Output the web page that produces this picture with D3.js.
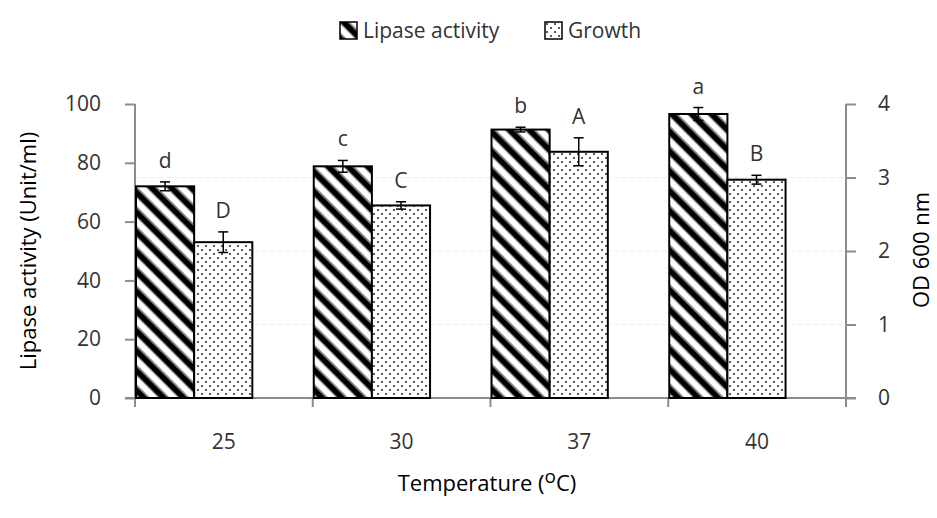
<!DOCTYPE html>
<html>
<head>
<meta charset="utf-8">
<script src="https://cdn.jsdelivr.net/npm/d3@7"></script>
<style>
  body { margin: 0; background: #fff; }
  text { font-family: "Open Sans", "Noto Sans", sans-serif; }
</style>
</head>
<body>
<div id="chart"></div>
<script>
const temps = ["25", "30", "37", "40"];
const lipase = [72.0, 78.8, 91.3, 96.6];
const lipaseErr = [1.5, 2.0, 0.8, 2.2];
const growth = [2.12, 2.62, 3.35, 2.97];
const growthErr = [0.14, 0.05, 0.19, 0.06];
const lipaseLetters = ["d", "c", "b", "a"];
const growthLetters = ["D", "C", "A", "B"];
const leftTicks = [0, 20, 40, 60, 80, 100];
const rightTicks = [0, 1, 2, 3, 4];

(function() {
  const W = 937, H = 518;
  const plot = { left: 135, right: 846, top: 104, bottom: 398 };
  const fs = "21px";

  const svg = d3.select("#chart").append("svg")
    .attr("width", W)
    .attr("height", H);

  const defs = svg.append("defs");

  // diagonal stripes "\"
  const stripe = defs.append("pattern")
    .attr("id", "stripes")
    .attr("patternUnits", "userSpaceOnUse")
    .attr("width", 14).attr("height", 14)
    .attr("patternTransform", "rotate(-45)");
  stripe.append("rect").attr("width", 14).attr("height", 14).attr("fill", "#fff");
  stripe.append("rect").attr("x", 0).attr("width", 5.5).attr("height", 14).attr("fill", "#000");
  stripe.append("rect").attr("x", 5.5).attr("width", 1.2).attr("height", 14).attr("fill", "#666");
  stripe.append("rect").attr("x", 12.8).attr("width", 1.2).attr("height", 14).attr("fill", "#666");

  // dots
  const dots = defs.append("pattern")
    .attr("id", "dots")
    .attr("patternUnits", "userSpaceOnUse")
    .attr("width", 8).attr("height", 8);
  dots.append("rect").attr("width", 8).attr("height", 8).attr("fill", "#fff");
  dots.append("circle").attr("cx", 2).attr("cy", 2).attr("r", 1.1).attr("fill", "#333");
  dots.append("circle").attr("cx", 6).attr("cy", 6).attr("r", 1.1).attr("fill", "#333");

  const x = d3.scaleBand()
    .domain(temps)
    .range([plot.left, plot.right])
    .padding(0);

  const xs = d3.scaleBand()
    .domain(["lipase", "growth"])
    .range([1, x.bandwidth() * 0.66]);

  const yL = d3.scaleLinear().domain([0, 100]).range([plot.bottom, plot.top]);
  const yR = d3.scaleLinear().domain([0, 4]).range([plot.bottom, plot.top]);

  // faint gridlines
  svg.append("g")
    .selectAll("line")
    .data(rightTicks.filter(d => d > 0 && d < 4))
    .join("line")
    .attr("x1", plot.left).attr("x2", plot.right)
    .attr("y1", d => yR(d)).attr("y2", d => yR(d))
    .attr("stroke", "#ececec")
    .attr("stroke-dasharray", "4,4");

  // AXES
  const axisColor = "#8c8c8c";
  const gL = svg.append("g")
    .attr("transform", `translate(${plot.left},0)`)
    .call(d3.axisLeft(yL).tickValues(leftTicks).tickSize(10).tickPadding(24));
  const gR = svg.append("g")
    .attr("transform", `translate(${plot.right},0)`)
    .call(d3.axisRight(yR).tickValues(rightTicks).tickFormat(d3.format("d")).tickSize(10).tickPadding(22));
  [gL, gR].forEach(g => {
    g.select(".domain").attr("stroke", axisColor).attr("stroke-width", 2)
      .attr("d", `M0,${plot.top}V${plot.bottom + 9}`);
    g.selectAll(".tick line").attr("stroke", axisColor).attr("stroke-width", 2);
    g.selectAll(".tick text")
      .attr("fill", "#333")
      .style("font-size", fs)
      .style("font-family", "'Open Sans', sans-serif");
  });

  // x axis
  const gX = svg.append("g");
  gX.append("line")
    .attr("x1", plot.left - 10).attr("x2", plot.right + 10)
    .attr("y1", plot.bottom).attr("y2", plot.bottom)
    .attr("stroke", axisColor).attr("stroke-width", 2);
  gX.selectAll(".xt")
    .data(temps.concat(["end"]))
    .join("line")
    .attr("class", "xt")
    .attr("x1", d => d === "end" ? plot.right : x(d))
    .attr("x2", d => d === "end" ? plot.right : x(d))
    .attr("y1", plot.bottom).attr("y2", plot.bottom + 9)
    .attr("stroke", axisColor).attr("stroke-width", 2);
  gX.selectAll(".xl")
    .data(temps)
    .join("text")
    .attr("class", "xl")
    .attr("x", d => x(d) + x.bandwidth() / 2)
    .attr("y", 449)
    .attr("text-anchor", "middle")
    .attr("fill", "#333")
    .style("font-size", fs)
    .text(d => d);

  // BARS
  const rows = temps.map((t, i) => ({
    t,
    lip: lipase[i], lipErr: lipaseErr[i], lipLetter: lipaseLetters[i],
    gr: growth[i], grErr: growthErr[i], grLetter: growthLetters[i]
  }));

  const bw = xs.bandwidth();

  svg.append("g").selectAll("rect")
    .data(rows)
    .join("rect")
    .attr("x", d => x(d.t) + xs("lipase"))
    .attr("y", d => yL(d.lip))
    .attr("width", bw)
    .attr("height", d => yL(0) - yL(d.lip))
    .attr("fill", "url(#stripes)")
    .attr("stroke", "#000")
    .attr("stroke-width", 2);

  svg.append("g").selectAll("rect")
    .data(rows)
    .join("rect")
    .attr("x", d => x(d.t) + xs("growth"))
    .attr("y", d => yR(d.gr))
    .attr("width", bw)
    .attr("height", d => yR(0) - yR(d.gr))
    .attr("fill", "url(#dots)")
    .attr("stroke", "#000")
    .attr("stroke-width", 2);

  // ERROR BARS + LETTERS
  function errBars(key, val, err, scale, letter) {
    const g = svg.append("g");
    const cx = d => x(d.t) + xs(key) + bw / 2;
    g.selectAll(".v").data(rows).join("line")
      .attr("x1", cx).attr("x2", cx)
      .attr("y1", d => scale(d[val] - d[err]))
      .attr("y2", d => scale(d[val] + d[err]))
      .attr("stroke", "#000").attr("stroke-width", 1.5);
    ["+", "-"].forEach(s => {
      g.selectAll(".c" + (s === "+" ? "p" : "m")).data(rows).join("line")
        .attr("x1", d => cx(d) - 5).attr("x2", d => cx(d) + 5)
        .attr("y1", d => scale(s === "+" ? d[val] + d[err] : d[val] - d[err]))
        .attr("y2", d => scale(s === "+" ? d[val] + d[err] : d[val] - d[err]))
        .attr("stroke", "#000").attr("stroke-width", 1.5);
    });
    g.selectAll("text").data(rows).join("text")
      .attr("x", cx)
      .attr("y", d => scale(d[val] + d[err]) - 14)
      .attr("text-anchor", "middle")
      .attr("fill", "#333")
      .style("font-size", fs)
      .text(d => d[letter]);
  }
  errBars("lipase", "lip", "lipErr", yL, "lipLetter");
  errBars("growth", "gr", "grErr", yR, "grLetter");

  // AXIS TITLES
  svg.append("text")
    .attr("transform", "translate(36,251) rotate(-90)")
    .attr("text-anchor", "middle")
    .attr("fill", "#000")
    .style("font-size", "22px")
    .text("Lipase activity (Unit/ml)");

  svg.append("text")
    .attr("transform", "translate(929,250) rotate(-90)")
    .attr("text-anchor", "middle")
    .attr("fill", "#000")
    .style("font-size", "22px")
    .text("OD 600 nm");

  const xt = svg.append("text")
    .attr("x", 487)
    .attr("y", 491)
    .attr("text-anchor", "middle")
    .attr("fill", "#000")
    .style("font-size", "22px")
    .style("font-weight", 500);
  xt.append("tspan").text("Temperature (");
  xt.append("tspan").attr("dy", -8).style("font-size", "19px").text("o");
  xt.append("tspan").attr("dy", 8).text("C)");

  // LEGEND
  const legend = [
    { label: "Lipase activity", fill: "url(#stripes)", x: 340 },
    { label: "Growth", fill: "url(#dots)", x: 545 }
  ];
  const lg = svg.append("g").selectAll("g").data(legend).join("g")
    .attr("transform", d => `translate(${d.x},22)`);
  lg.append("rect")
    .attr("width", 17).attr("height", 17)
    .attr("fill", d => d.fill)
    .attr("stroke", "#000").attr("stroke-width", 1.5);
  lg.append("text")
    .attr("x", 23).attr("y", 16)
    .attr("fill", "#333")
    .style("font-size", fs)
    .text(d => d.label);
})();
</script>
</body>
</html>
